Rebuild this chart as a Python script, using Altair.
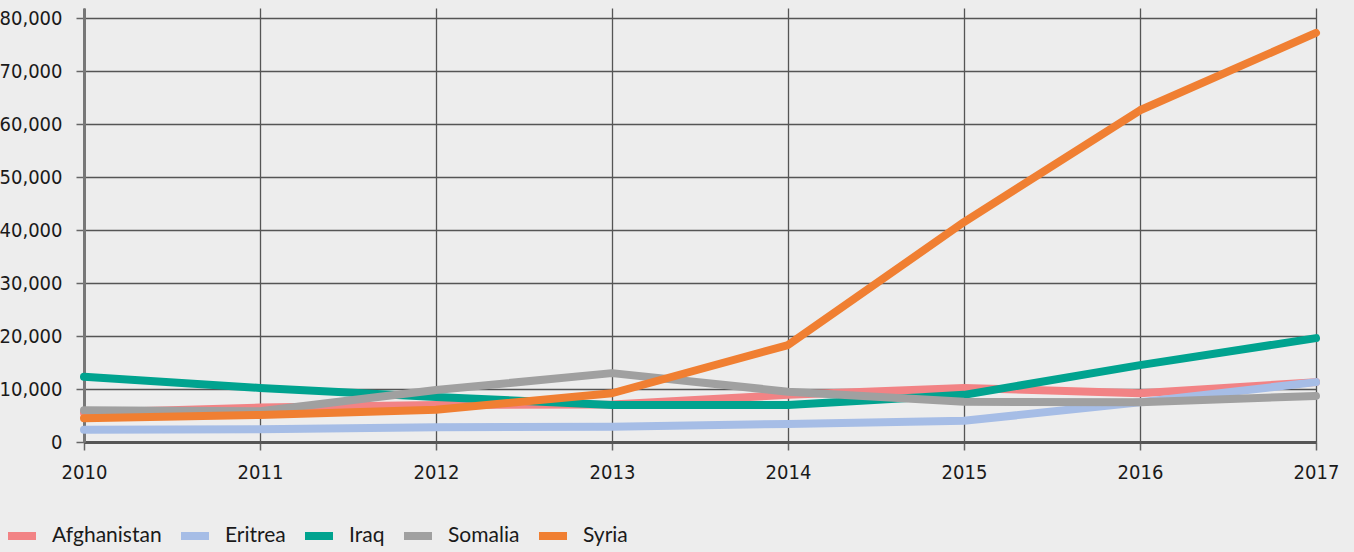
import altair as alt
import pandas as pd

years = [2010, 2011, 2012, 2013, 2014, 2015, 2016, 2017]
afghanistan = [5500, 6500, 7000, 7100, 8900, 10200, 9200, 11300]
eritrea = [2300, 2400, 2800, 2900, 3400, 4000, 7500, 11300]
iraq = [12300, 10200, 8500, 7000, 7000, 8900, 14500, 19600]
somalia = [6000, 5800, 9800, 13000, 9500, 7600, 7500, 8700]
syria = [4500, 5100, 6100, 9200, 18300, 41500, 62600, 77200]

countries = ["Afghanistan", "Eritrea", "Iraq", "Somalia", "Syria"]
colors = ["#f28385", "#a6bde6", "#00a38f", "#a0a0a0", "#f07f32"]
y_ticks = [0, 10000, 20000, 30000, 40000, 50000, 60000, 70000, 80000]

series = dict(zip(countries, [afghanistan, eritrea, iraq, somalia, syria]))
rows = []
for c in countries:
    for yr, v in zip(years, series[c]):
        rows.append({"year": yr, "value": v, "country": c, "order": countries.index(c)})
df = pd.DataFrame(rows)

tick_font = "Liberation Sans Narrow, DejaVu Sans Condensed, sans-serif"

chart = alt.Chart(df).mark_line(strokeWidth=8, strokeCap="round", strokeJoin="round").encode(
    x=alt.X("year:Q", scale=alt.Scale(domain=[2010, 2017], nice=False, zero=False),
            axis=alt.Axis(values=years, format="d", title=None, tickSize=8,
                          labelPadding=12, labelFontSize=20, labelFont=tick_font,
                          labelColor="#1a1a1a", domainColor="#555555", domainWidth=3,
                          tickColor="#666666", tickWidth=1.5, gridColor="#555555",
                          gridWidth=1.3, labelFlush=False)),
    y=alt.Y("value:Q", scale=alt.Scale(domain=[0, 81900], nice=False),
            axis=alt.Axis(values=y_ticks, format=",d", title=None, tickSize=8,
                          labelPadding=14, labelFontSize=20, labelFont=tick_font,
                          labelColor="#1a1a1a", domainColor="#777777", domainWidth=3,
                          tickColor="#666666", tickWidth=1.5, gridColor="#555555",
                          gridWidth=1.3)),
    color=alt.Color("country:N", scale=alt.Scale(domain=countries, range=colors),
                    legend=alt.Legend(title=None, orient="none", legendX=-80, legendY=510,
                                      direction="horizontal", columns=5,
                                      symbolType="stroke", symbolStrokeWidth=8,
                                      symbolSize=784, labelFont="Lato", labelFontSize=21,
                                      labelColor="#1a1a1a", columnPadding=3,
                                      labelOffset=12)),
    detail="country:N",
    order="order:Q",
).properties(
    width=1232, height=434,
    autosize=alt.AutoSizeParams(type="none"),
    padding={"left": 84, "top": 8, "right": 38, "bottom": 110},
    background="#ededed",
).configure_view(stroke=None, fill="#ededed")

chart.save("out.html", embed_options={"renderer": "svg", "actions": False})
